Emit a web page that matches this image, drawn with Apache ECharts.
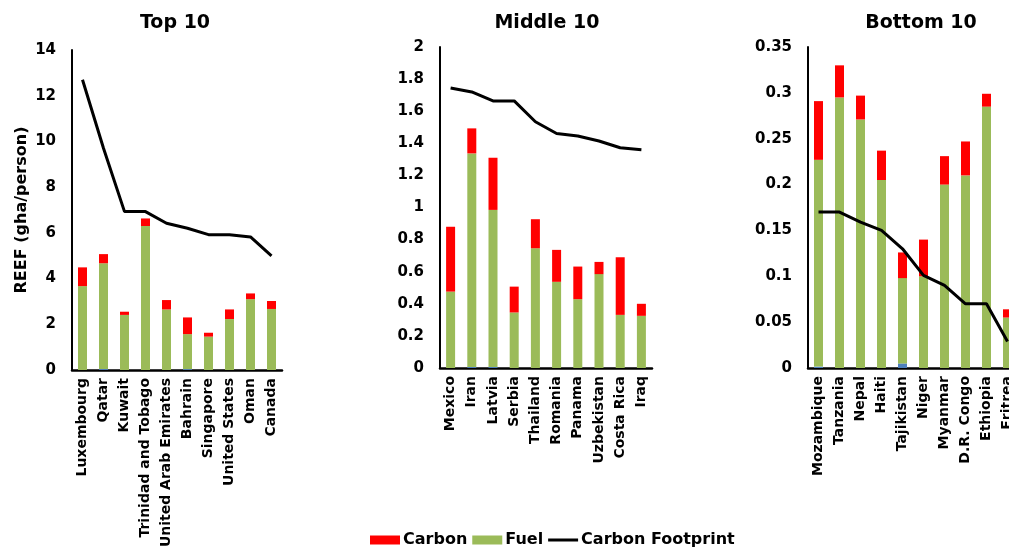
<!DOCTYPE html>
<html>
<head>
<meta charset="utf-8">
<script src="https://cdn.jsdelivr.net/npm/echarts@6/dist/echarts.min.js"></script>
<style>html,body{margin:0;padding:0;background:#fff}#c{width:1009px;height:549px}</style>
</head>
<body>
<div id="c"></div>
<script>
// ---- Data ----
const topCats = ['Luxembourg','Qatar','Kuwait','Trinidad and Tobago','United Arab Emirates','Bahrain','Singapore','United States','Oman','Canada'];
const topOther = [0, 0.04, 0, 0, 0, 0.04, 0, 0, 0, 0];
const topFuel = [3.67, 4.63, 2.41, 6.3, 2.65, 1.53, 1.46, 2.23, 3.1, 2.67];
const topCarbon = [0.82, 0.4, 0.14, 0.33, 0.41, 0.73, 0.17, 0.42, 0.25, 0.35];
const topFootprint = [12.7, 9.7, 6.93, 6.93, 6.42, 6.2, 5.92, 5.92, 5.82, 4.99];

const midCats = ['Mexico','Iran','Latvia','Serbia','Thailand','Romania','Panama','Uzbekistan','Costa Rica','Iraq'];
const midOther = [0, 0.006, 0.006, 0, 0, 0, 0, 0, 0, 0];
const midFuel = [0.476, 1.331, 0.979, 0.346, 0.746, 0.537, 0.429, 0.585, 0.331, 0.325];
const midCarbon = [0.404, 0.156, 0.325, 0.161, 0.181, 0.199, 0.203, 0.076, 0.359, 0.075];
const midFootprint = [1.745, 1.72, 1.664, 1.664, 1.534, 1.461, 1.445, 1.414, 1.372, 1.36];

const botCats = ['Mozambique','Tanzania','Nepal','Haiti','Tajikistan','Niger','Myanmar','D.R. Congo','Ethiopia','Eritrea'];
const botOther = [0.0015, 0, 0, 0, 0.005, 0, 0, 0, 0, 0];
const botFuel = [0.2255, 0.295, 0.271, 0.205, 0.093, 0.1, 0.2, 0.21, 0.285, 0.055];
const botCarbon = [0.064, 0.035, 0.026, 0.032, 0.028, 0.04, 0.031, 0.037, 0.014, 0.009];
const botFootprint = [0.17, 0.17, 0.159, 0.15, 0.13, 0.101, 0.09, 0.07, 0.07, 0.029];

const yMax = [14, 2, 0.35];
const yInterval = [2, 0.2, 0.05];
const titles = ['Top 10', 'Middle 10', 'Bottom 10'];

// ---- Build ----
const FONT = 'DejaVu Sans';
const panels = [
  {cats: topCats, other: topOther, fuel: topFuel, carbon: topCarbon, fp: topFootprint},
  {cats: midCats, other: midOther, fuel: midFuel, carbon: midCarbon, fp: midFootprint},
  {cats: botCats, other: botOther, fuel: botFuel, carbon: botCarbon, fp: botFootprint}
];
const grids = [
  {left: 72, top: 50, width: 210, height: 320, outerBoundsMode: 'none', containLabel: false},
  {left: 440, top: 47, width: 212, height: 321, outerBoundsMode: 'none', containLabel: false},
  {left: 808, top: 47, width: 210, height: 321, outerBoundsMode: 'none', containLabel: false}
];
const titleX = [170, 542, 916];

const xAxes = [], yAxes = [], series = [], titleOpts = [];
panels.forEach((p, i) => {
  titleOpts.push({
    text: titles[i], left: titleX[i], top: 9, textAlign: 'center',
    textStyle: {fontFamily: FONT, fontWeight: 'bold', fontSize: 19, color: '#000'}
  });
  xAxes.push({
    type: 'category', gridIndex: i, data: p.cats,
    axisLine: {lineStyle: {color: '#000', width: 2.5}},
    axisTick: {show: false},
    axisLabel: {rotate: 90, interval: 0, margin: 8, fontFamily: FONT, fontWeight: 'bold', fontSize: 14, color: '#000', hideOverlap: false}
  });
  const y = {
    type: 'value', gridIndex: i, min: 0, max: yMax[i], interval: yInterval[i],
    axisLine: {show: true, lineStyle: {color: '#000', width: 2}},
    axisTick: {show: false},
    splitLine: {show: false},
    axisLabel: {margin: 16, fontFamily: FONT, fontWeight: 'bold', fontSize: 15, color: '#000',
      formatter: v => String(+v.toFixed(2))}
  };
  if (i === 0) {
    Object.assign(y, {
      name: 'REEF (gha/person)', nameLocation: 'middle', nameRotate: 90, nameGap: 42,
      nameTextStyle: {fontFamily: FONT, fontWeight: 'bold', fontSize: 16, color: '#000'}
    });
  }
  yAxes.push(y);
  const common = {type: 'bar', stack: 's' + i, xAxisIndex: i, yAxisIndex: i, barWidth: 9};
  series.push(Object.assign({name: 'Other', data: p.other, itemStyle: {color: '#4F81BD'}}, common));
  series.push(Object.assign({name: 'Fuel', data: p.fuel, itemStyle: {color: '#9BBB59'}}, common));
  series.push(Object.assign({name: 'Carbon', data: p.carbon, itemStyle: {color: '#FF0000'}}, common));
  series.push({
    type: 'line', name: 'Carbon Footprint', xAxisIndex: i, yAxisIndex: i, data: p.fp,
    symbol: 'none', lineStyle: {color: '#000', width: 3}, itemStyle: {color: '#000'}, z: 5
  });
});

const chart = echarts.init(document.getElementById('c'), null, {renderer: 'canvas'});
chart.setOption({
  animation: false,
  title: titleOpts,
  grid: grids,
  xAxis: xAxes,
  yAxis: yAxes,
  legend: {
    data: [
      {name: 'Carbon', icon: 'rect'},
      {name: 'Fuel', icon: 'rect'},
      {name: 'Carbon Footprint', icon: 'path://M0,0 L30,0 L30,0.01 Z M0,3 L30,3 L30,6 L0,6 Z M0,9 L30,9 L30,9.01 Z', itemStyle: {color: '#000'}}
    ],
    left: 365, top: 527, itemWidth: 30, itemHeight: 9, itemGap: 5,
    textStyle: {fontFamily: FONT, fontWeight: 'bold', fontSize: 16, color: '#000', padding: [0, 0, 0, -2]}
  },
  series: series
});
</script>
</body>
</html>
